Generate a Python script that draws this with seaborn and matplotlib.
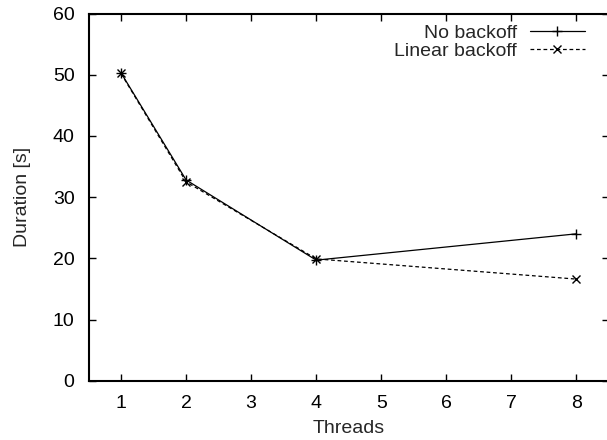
import matplotlib
matplotlib.use("Agg")
import matplotlib.pyplot as plt
import seaborn as sns
import pandas as pd

threads = [1, 2, 4, 8]
no_backoff = [50.3, 32.8, 19.7, 24.0]
linear_backoff = [50.2, 32.5, 19.9, 16.6]
series_names = ["No backoff", "Linear backoff"]

sns.set_style("ticks")
plt.rcParams['font.family'] = ['Liberation Sans', 'DejaVu Sans']

df = pd.DataFrame({
    "Threads": threads * 2,
    "Duration": no_backoff + linear_backoff,
    "Series": [series_names[0]] * 4 + [series_names[1]] * 4,
})

W, H = 607, 440
fig = plt.figure(figsize=(W / 100, H / 100), dpi=100)
left, right, bottom, top = 88.5, 609.0, 380.7, 13.5
ax = fig.add_axes([left / W, (H - bottom) / H, (right - left) / W, (bottom - top) / H])

sns.lineplot(data=df[df.Series == series_names[0]], x="Threads", y="Duration",
             ax=ax, color="black", lw=0.9, marker="+", markersize=6.5,
             markeredgewidth=1.0, markeredgecolor="black", label=series_names[0])
sns.lineplot(data=df[df.Series == series_names[1]], x="Threads", y="Duration",
             ax=ax, color="black", lw=0.9, marker="x", markersize=5.5,
             markeredgewidth=1.0, markeredgecolor="black",
             linestyle=(0, (3, 2.2)), label=series_names[1])

ax.set_xlim(0.5, 8.5)
ax.set_ylim(0, 60)
ax.set_xticks(range(1, 9))
ax.set_yticks(range(0, 61, 10))
ax.set_xlabel("Threads", fontsize=14, labelpad=6)
ax.set_ylabel("Duration [s]", fontsize=14, labelpad=16)
ax.tick_params(direction="in", top=True, right=True, length=5, width=1,
               labelsize=14, colors="black", pad=10)
for s in ax.spines.values():
    s.set_visible(True)
    s.set_linewidth(1.5)
    s.set_color("black")

leg = ax.legend(loc="upper right", bbox_to_anchor=(0.9539, 0.9712),
                frameon=False, markerfirst=False,
                fontsize=14, handlelength=2.85, borderaxespad=0.0, borderpad=0.0,
                labelspacing=0.05, handletextpad=0.65)

fig.savefig("out.png", dpi=100)
